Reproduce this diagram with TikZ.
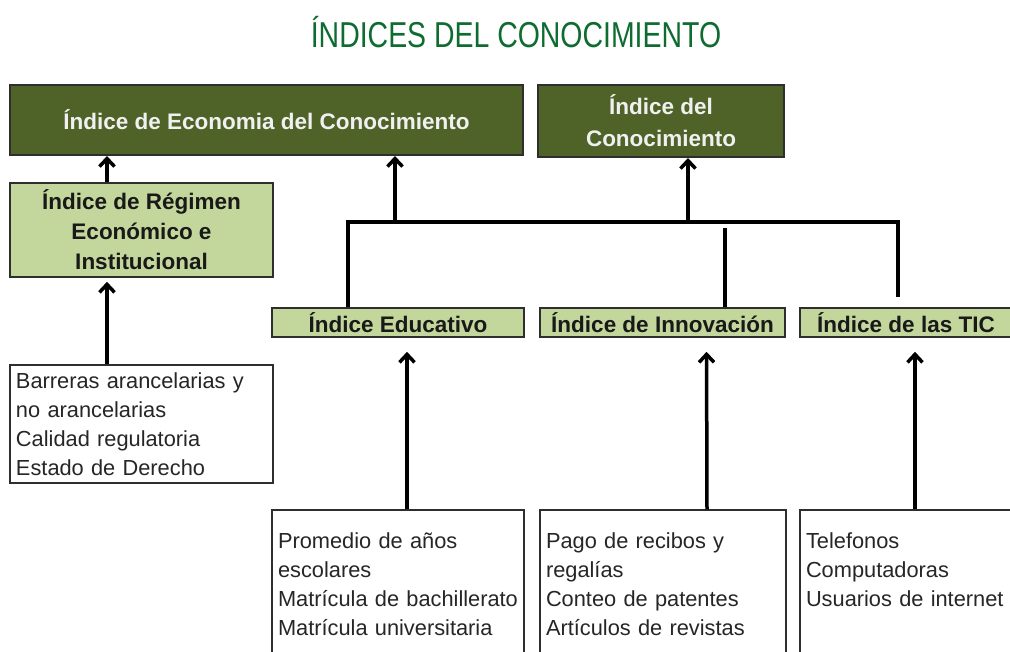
\documentclass[tikz,border=0pt]{standalone}
\usepackage{fontspec}
\setmainfont{Liberation Sans}
\usetikzlibrary{positioning, calc, arrows.meta}
\definecolor{olivedark}{HTML}{4F6228}
\definecolor{olivelight}{HTML}{C3D69B}
\definecolor{titlegreen}{RGB}{14,108,48}
\definecolor{boxline}{HTML}{2E2E2E}

\begin{document}
\begin{tikzpicture}[x=1pt, y=-1pt,
    darkbox/.style={draw=boxline, line width=2pt, fill=olivedark, text=white!88!gray, font=\bfseries\fontsize{22.5}{32}\selectfont, align=center, inner sep=0pt},
    lightbox/.style={draw=boxline, line width=1.6pt, fill=olivelight, text=black!90, font=\bfseries\fontsize{22.5}{30}\selectfont, align=center, inner sep=0pt},
    listbox/.style={draw=boxline, line width=1.4pt, fill=white, text=black!85, font=\fontsize{21.8}{29}\selectfont, align=left, inner xsep=6pt, inner ysep=0pt},
    uparrow/.style={line width=3.5pt, -{Straight Barb[length=8pt,width=15pt]}},
    link/.style={line width=3.5pt}]
    % Page
    \fill[white] (0,0) rectangle (1010,652);
    \useasboundingbox (0,0) rectangle (1010,652);
    \clip (0,0) rectangle (1010,652);

    % Title
    \node[anchor=base, text=titlegreen, font=\fontsize{36}{40}\selectfont] (title) at (516,48) {\scalebox{0.79}[1]{ÍNDICES DEL CONOCIMIENTO}};

    % Top indices
    \node[darkbox, minimum width=513, minimum height=70] (iec) at (266.5,120) {Índice de Economia del Conocimiento};
    \node[darkbox, minimum width=246, minimum height=72] (ic) at (661,121) {Índice del\\Conocimiento};

    % Sub indices
    \node[lightbox, minimum width=263, minimum height=94] (reg) at (141.5,230) {Índice de Régimen\\Económico e\\Institucional};
    \node[lightbox, minimum width=252, minimum height=29] (edu) at (398,322.5) {Índice Educativo};
    \node[lightbox, minimum width=245, minimum height=29] (inn) at (662.5,322.5) {Índice de Innovación};
    \node[lightbox, minimum width=212, minimum height=29] (tic) at (906,322.5) {Índice de las TIC};

    % Variables
    \node[listbox, text width=251, minimum height=118] (barlist) at (141.5,424) {Barreras arancelarias y\\no arancelarias\\Calidad regulatoria\\Estado de Derecho};
    \node[listbox, text width=240, minimum height=148] (edulist) at (398,584) {Promedio de años\\escolares\\Matrícula de bachillerato\\Matrícula universitaria};
    \node[listbox, text width=234, minimum height=148] (innlist) at (663,584) {Pago de recibos y\\regalías\\Conteo de patentes\\Artículos de revistas};
    \node[listbox, text width=200, minimum height=148] (ticlist) at (906,584) {Telefonos\\Computadoras\\Usuarios de internet\\\mbox{}};

    % Bar joining the three indices
    \coordinate (barL) at (348,222);
    \coordinate (barR) at (898,222);
    \coordinate (barE) at (395,222);
    \coordinate (barC) at (688,222);
    \coordinate (innTop) at (725,228);
    \coordinate (ticEnd) at (898,297);
    \coordinate (regX) at (107,0);
    \draw[link] (edu.north -| barL) -- (barL) -- (barR) -- (ticEnd);
    \draw[link] (innTop) -- (inn.north -| innTop);

    % Arrows
    \draw[uparrow] (barE) -- (barE |- iec.south);
    \draw[uparrow] (barC) -- (barC |- ic.south);
    \draw[uparrow] (reg.north -| regX) -- (iec.south -| regX);
    \draw[uparrow, shorten >=4pt] (barlist.north -| regX) -- (reg.south -| regX);
    \draw[uparrow, shorten >=14pt] ([xshift=9pt]edulist.north) -- ([xshift=9pt]edu.south);
    \draw[uparrow, shorten >=14pt] ([xshift=44pt]innlist.north) -- ([xshift=44pt]inn.south);
    \draw[uparrow, shorten >=14pt] ([xshift=9pt]ticlist.north) -- ([xshift=9pt]tic.south);
\end{tikzpicture}
\end{document}
